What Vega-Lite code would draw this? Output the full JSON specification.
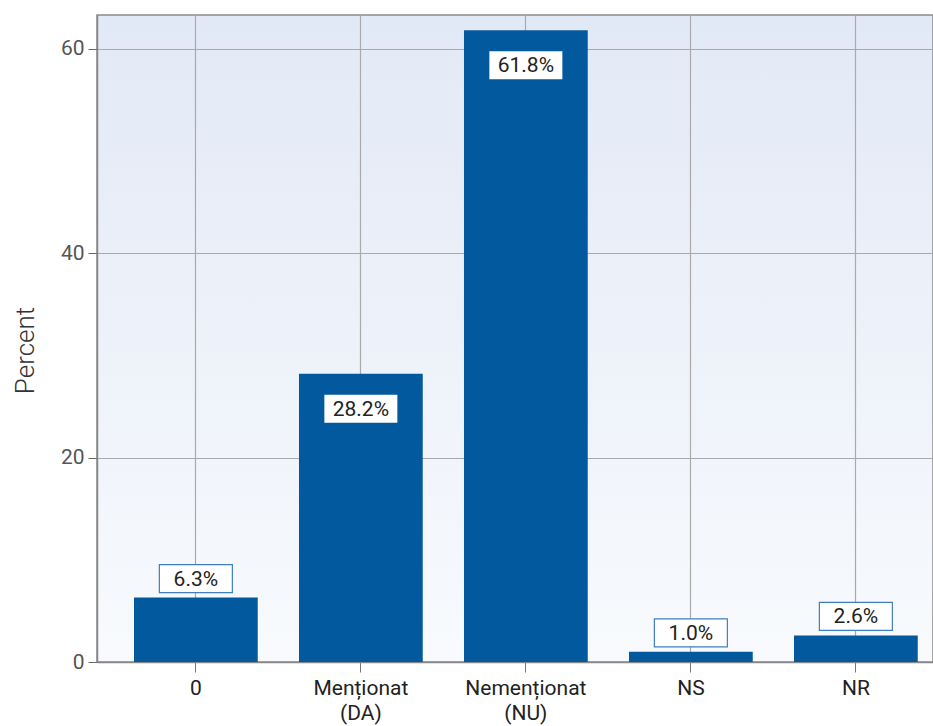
{
  "$schema": "https://vega.github.io/schema/vega-lite/v6.json",
  "autosize": "none",
  "width": 836,
  "height": 647,
  "padding": {"left": 97, "top": 15, "right": 0, "bottom": 64},
  "background": "white",
  "config": {
    "font": "Roboto",
    "view": {
      "fill": {"gradient": "linear", "x1": 0, "y1": 0, "x2": 0, "y2": 1, "stops": [{"offset": 0, "color": "#e2e9f6"}, {"offset": 1, "color": "#f8fafd"}]},
      "stroke": "#8a8a8a",
      "strokeWidth": 1.5
    }
  },
  "data": {
    "values": [
      {"cat": "0", "pct": 6.3, "label": "6.3%"},
      {"cat": "Menționat (DA)", "pct": 28.2, "label": "28.2%"},
      {"cat": "Nemenționat (NU)", "pct": 61.8, "label": "61.8%"},
      {"cat": "NS", "pct": 1.0, "label": "1.0%"},
      {"cat": "NR", "pct": 2.6, "label": "2.6%"}
    ]
  },
  "encoding": {
    "x": {
      "field": "cat", "type": "nominal", "sort": null,
      "scale": {"paddingInner": 0.25, "paddingOuter": 0.1583, "align": 0.708},
      "axis": {
        "title": null, "labelAngle": 0, "grid": true, "gridColor": "#aaaaaa", "gridWidth": 1.2,
        "labelExpr": "split(datum.label, ' ')", "labelFontSize": 21, "labelColor": "#222222",
        "labelLineHeight": 25, "labelPadding": 5, "tickSize": 10, "tickColor": "#777777",
        "domainColor": "#888888", "domainWidth": 1.5
      }
    },
    "y": {
      "field": "pct", "type": "quantitative",
      "scale": {"domain": [0, 63.3], "nice": false},
      "axis": {
        "title": "Percent", "values": [0, 20, 40, 60], "grid": true, "gridColor": "#aaaaaa", "gridWidth": 1.2,
        "labelFontSize": 21, "labelColor": "#555555", "labelPadding": 4, "tickSize": 9, "tickColor": "#666666",
        "domainColor": "#888888", "domainWidth": 1.5,
        "titleFontSize": 26, "titleFontWeight": 300, "titleColor": "#333333", "titlePadding": 22, "titleY": 335
      }
    }
  },
  "layer": [
    {"mark": {"type": "bar", "color": "#03599d"}},
    {
      "transform": [{"filter": "datum.pct < 20"}],
      "mark": {"type": "point", "shape": "M-1,-0.3836L1,-0.3836L1,0.3836L-1,0.3836Z", "size": 5329, "filled": true, "fill": "white", "stroke": "#3f7fc0", "strokeWidth": 1.2, "opacity": 1, "yOffset": -19}
    },
    {
      "transform": [{"filter": "datum.pct < 20"}],
      "mark": {"type": "text", "fontSize": 21, "color": "#222222", "baseline": "middle", "yOffset": -18},
      "encoding": {"text": {"field": "label"}}
    },
    {
      "transform": [{"filter": "datum.pct >= 20"}],
      "mark": {"type": "point", "shape": "M-1,-0.3836L1,-0.3836L1,0.3836L-1,0.3836Z", "size": 5329, "filled": true, "fill": "white", "strokeWidth": 0, "opacity": 1, "yOffset": 35}
    },
    {
      "transform": [{"filter": "datum.pct >= 20"}],
      "mark": {"type": "text", "fontSize": 21, "color": "#222222", "baseline": "middle", "yOffset": 36},
      "encoding": {"text": {"field": "label"}}
    }
  ]
}
